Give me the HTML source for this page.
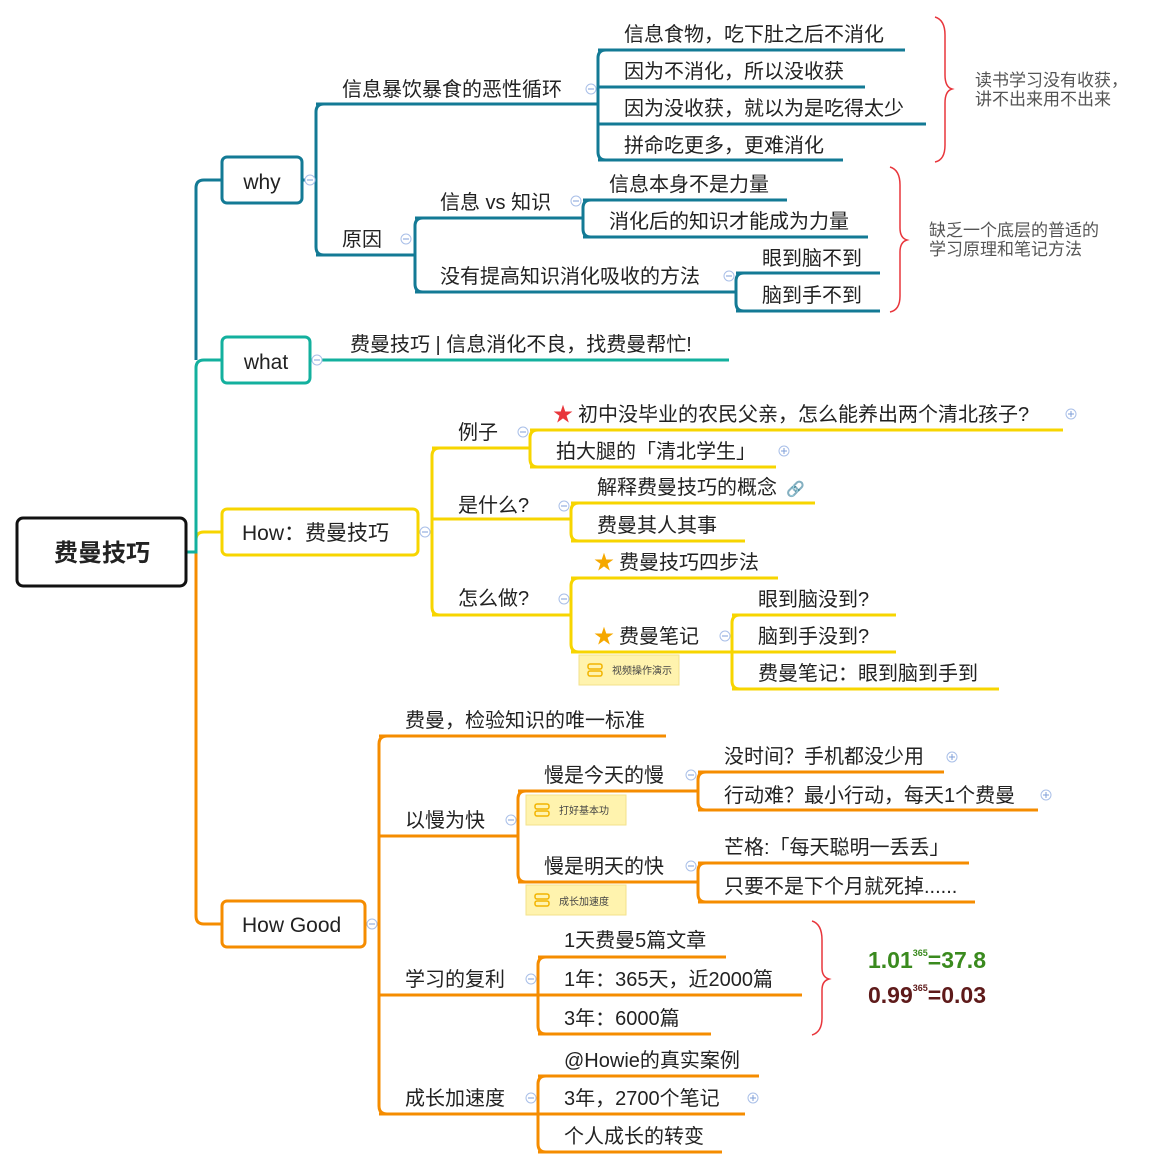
<!DOCTYPE html>
<html><head><meta charset="utf-8"><style>
html,body{margin:0;padding:0;background:#fff}
svg{display:block}
text{font-family:"Liberation Sans","Noto Sans CJK SC",sans-serif;fill:#222;font-size:20px}
.b{fill:none;stroke:#137A95;stroke-width:3}
.t{fill:none;stroke:#13B09E;stroke-width:3}
.y{fill:none;stroke:#F7D500;stroke-width:3}
.o{fill:none;stroke:#F58C00;stroke-width:3}
.r{fill:none;stroke:#E8363C;stroke-width:1.5}
.c{fill:#fff;stroke:#A9BFE8;stroke-width:1}
.m{stroke:#7F9FD8;stroke-width:1}
.s{font-size:17px;fill:#555}
.n{font-size:10px;fill:#444}
</style></head><body>
<svg width="1171" height="1169" viewBox="0 0 1171 1169" xmlns="http://www.w3.org/2000/svg">
<defs>
<g id="col"><circle r="5" class="c"/><line x1="-3" x2="3" y1="0" y2="0" class="m"/></g>
<g id="pl"><circle r="5" class="c"/><line x1="-3" x2="3" y1="0" y2="0" class="m"/><line y1="-3" y2="3" x1="0" x2="0" class="m"/></g>
<g id="note"><rect x="0" y="0" width="100" height="30" fill="#FFF3AE" stroke="#F3E18B"/><rect x="9" y="9" width="14" height="5" rx="2" fill="none" stroke="#F2B400" stroke-width="1.5"/><rect x="9" y="16" width="14" height="5" rx="2" fill="none" stroke="#F2B400" stroke-width="1.5"/></g>
</defs>

<path class="o" d="M187,552 H196 V916 Q196,924 204,924 H222"/>
<path class="y" d="M187,552 H196 V540 Q196,532 204,532 H222"/>
<path class="t" d="M187,552 H196 V368 Q196,360 204,360 H222"/>
<path class="b" d="M196,360 V188 Q196,180 204,180 H222"/>

<rect x="17" y="518" width="169" height="68" rx="6" fill="#fff" stroke="#111" stroke-width="3"/>
<text x="102" y="561" text-anchor="middle" style="font-size:24px;font-weight:bold">费曼技巧</text>

<rect x="222" y="157" width="80" height="46" rx="5" fill="#fff" class="b"/>
<text x="262" y="189" text-anchor="middle" style="font-size:21px">why</text>
<rect x="222" y="337" width="88" height="46" rx="5" fill="#fff" class="t"/>
<text x="266" y="369" text-anchor="middle" style="font-size:21px">what</text>
<rect x="222" y="509" width="196" height="46" rx="5" fill="#fff" class="y"/>
<text x="242" y="540" style="font-size:21px">How：费曼技巧</text>
<rect x="222" y="901" width="143" height="46" rx="5" fill="#fff" class="o"/>
<text x="242" y="932" style="font-size:21px">How Good</text>

<path class="b" d="M302,180 H316"/>
<path class="b" d="M324,104 Q316,104 316,112 V247 Q316,255 324,255"/>
<use href="#col" x="310" y="180"/>
<path class="b" d="M316,104 H598"/>
<text x="342" y="96">信息暴饮暴食的恶性循环</text>
<use href="#col" x="591" y="89"/>
<path class="b" d="M316,255 H415"/>
<text x="342" y="246">原因</text>
<use href="#col" x="406" y="239"/>

<path class="b" d="M606,50 Q598,50 598,58 V152 Q598,160 606,160"/>
<path class="b" d="M598,50 H905 M598,87 H865 M598,124 H926 M598,160 H843"/>
<text x="624" y="41">信息食物，吃下肚之后不消化</text>
<text x="624" y="78">因为不消化，所以没收获</text>
<text x="624" y="115">因为没收获，就以为是吃得太少</text>
<text x="624" y="152">拼命吃更多，更难消化</text>
<path class="r" d="M935,17 Q945,20 945,35 V75 Q945,87 952,89 Q945,91 945,103 V145 Q945,160 935,162"/>
<text x="975" y="86" class="s">读书学习没有收获，</text>
<text x="975" y="105" class="s">讲不出来用不出来</text>

<path class="b" d="M423,218 Q415,218 415,226 V284 Q415,292 423,292"/>
<path class="b" d="M415,218 H583 M415,292 H736"/>
<text x="440" y="209">信息 vs 知识</text>
<use href="#col" x="576" y="201"/>
<text x="440" y="283">没有提高知识消化吸收的方法</text>
<use href="#col" x="729" y="276"/>
<path class="b" d="M591,200 Q583,200 583,208 V229 Q583,237 591,237"/>
<path class="b" d="M583,200 H787 M583,237 H868"/>
<text x="609" y="191">信息本身不是力量</text>
<text x="609" y="228">消化后的知识才能成为力量</text>
<path class="b" d="M744,273 Q736,273 736,281 V303 Q736,311 744,311"/>
<path class="b" d="M736,273 H880 M736,311 H880"/>
<text x="762" y="265">眼到脑不到</text>
<text x="762" y="302">脑到手不到</text>
<path class="r" d="M890,167 Q900,170 900,185 V228 Q900,238 907,240 Q900,242 900,252 V296 Q900,310 890,312"/>
<text x="929" y="236" class="s">缺乏一个底层的普适的</text>
<text x="929" y="255" class="s">学习原理和笔记方法</text>

<path class="t" d="M310,360 H729"/>
<use href="#col" x="317" y="360"/>
<text x="350" y="351">费曼技巧 | 信息消化不良，找费曼帮忙!</text>

<path class="y" d="M418,532 H432"/>
<use href="#col" x="425" y="532"/>
<path class="y" d="M440,448 Q432,448 432,456 V607 Q432,615 440,615"/>
<path class="y" d="M432,448 H530 M432,519 H571 M432,615 H571"/>
<text x="458" y="439">例子</text><use href="#col" x="523" y="432"/>
<text x="458" y="512">是什么?</text><use href="#col" x="564" y="506"/>
<text x="458" y="605">怎么做?</text><use href="#col" x="564" y="599"/>

<path class="y" d="M538,430 Q530,430 530,438 V459 Q530,467 538,467"/>
<path class="y" d="M530,430 H1063 M530,467 H776"/>
<text x="563" y="421" style="fill:#E8363C;font-size:20px" text-anchor="middle">★</text>
<text x="578" y="421">初中没毕业的农民父亲，怎么能养出两个清北孩子?</text>
<use href="#pl" x="1071" y="414"/>
<text x="556" y="458">拍大腿的「清北学生」</text>
<use href="#pl" x="784" y="451"/>

<path class="y" d="M579,503 Q571,503 571,511 V533 Q571,541 579,541"/>
<path class="y" d="M571,503 H815 M571,541 H745"/>
<text x="597" y="494">解释费曼技巧的概念</text>
<text x="786" y="494" style="fill:#3A7BE0;font-size:15px">🔗</text>
<text x="597" y="532">费曼其人其事</text>

<path class="y" d="M579,578 Q571,578 571,586 V644 Q571,652 579,652"/>
<path class="y" d="M571,578 H778 M571,652 H732"/>
<text x="604" y="569" style="fill:#F5A800;font-size:20px" text-anchor="middle">★</text>
<text x="619" y="569">费曼技巧四步法</text>
<text x="604" y="643" style="fill:#F5A800;font-size:20px" text-anchor="middle">★</text>
<text x="619" y="643">费曼笔记</text>
<use href="#col" x="725" y="636"/>
<use href="#note" x="579" y="655"/>
<text x="612" y="674" class="n">视频操作演示</text>

<path class="y" d="M740,615 Q732,615 732,623 V681 Q732,689 740,689"/>
<path class="y" d="M732,615 H896 M732,652 H896 M732,689 H999"/>
<text x="758" y="606">眼到脑没到?</text>
<text x="758" y="643">脑到手没到?</text>
<text x="758" y="680">费曼笔记：眼到脑到手到</text>

<path class="o" d="M365,924 H379"/>
<use href="#col" x="372" y="924"/>
<path class="o" d="M387,736 Q379,736 379,744 V1106 Q379,1114 387,1114"/>
<path class="o" d="M379,736 H666 M379,836 H518 M379,995 H538 M379,1114 H538"/>
<text x="405" y="727">费曼，检验知识的唯一标准</text>
<text x="405" y="827">以慢为快</text><use href="#col" x="511" y="820"/>
<text x="405" y="986">学习的复利</text><use href="#col" x="531" y="979"/>
<text x="405" y="1105">成长加速度</text><use href="#col" x="531" y="1098"/>

<path class="o" d="M526,791 Q518,791 518,799 V874 Q518,882 526,882"/>
<path class="o" d="M518,791 H698 M518,882 H698"/>
<text x="544" y="782">慢是今天的慢</text><use href="#col" x="691" y="775"/>
<text x="544" y="873">慢是明天的快</text><use href="#col" x="691" y="866"/>
<use href="#note" x="526" y="795"/><text x="559" y="814" class="n">打好基本功</text>
<use href="#note" x="526" y="885"/><text x="559" y="905" class="n">成长加速度</text>

<path class="o" d="M706,772 Q698,772 698,780 V802 Q698,810 706,810"/>
<path class="o" d="M698,772 H944 M698,810 H1038"/>
<text x="724" y="763">没时间？手机都没少用</text><use href="#pl" x="952" y="757"/>
<text x="724" y="802">行动难？最小行动，每天1个费曼</text><use href="#pl" x="1046" y="795"/>
<path class="o" d="M706,863 Q698,863 698,871 V894 Q698,902 706,902"/>
<path class="o" d="M698,863 H969 M698,902 H975"/>
<text x="724" y="854">芒格:「每天聪明一丢丢」</text>
<text x="724" y="893">只要不是下个月就死掉......</text>

<path class="o" d="M546,957 Q538,957 538,965 V1026 Q538,1034 546,1034"/>
<path class="o" d="M538,957 H726 M538,995 H802 M538,1034 H711"/>
<text x="564" y="947">1天费曼5篇文章</text>
<text x="564" y="986">1年：365天，近2000篇</text>
<text x="564" y="1025">3年：6000篇</text>
<path class="r" d="M812,921 Q822,924 822,940 V968 Q822,977 829,979 Q822,981 822,990 V1018 Q822,1032 812,1035"/>
<text x="868" y="968" style="fill:#3A8A1E;font-weight:bold;font-size:23px">1.01<tspan dy="-12" style="font-size:9px">365</tspan><tspan dy="12">=37.8</tspan></text>
<text x="868" y="1003" style="fill:#5E1A1A;font-weight:bold;font-size:23px">0.99<tspan dy="-12" style="font-size:9px">365</tspan><tspan dy="12">=0.03</tspan></text>

<path class="o" d="M546,1076 Q538,1076 538,1084 V1144 Q538,1152 546,1152"/>
<path class="o" d="M538,1076 H759 M538,1114 H745 M538,1152 H722"/>
<text x="564" y="1067">@Howie的真实案例</text>
<text x="564" y="1105">3年，2700个笔记</text><use href="#pl" x="753" y="1098"/>
<text x="564" y="1143">个人成长的转变</text>
</svg>
</body></html>
